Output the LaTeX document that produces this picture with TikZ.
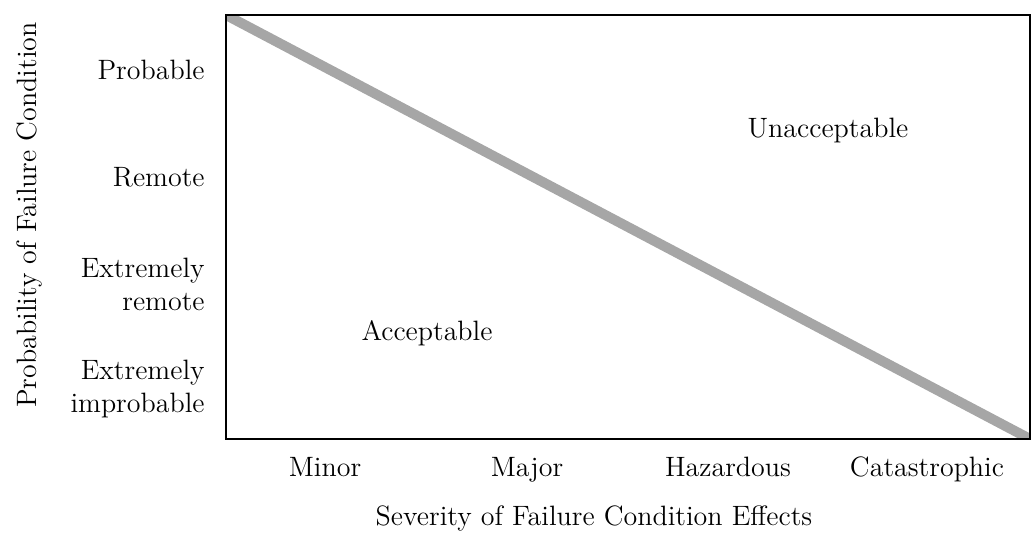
\documentclass[tikz,border=0pt]{standalone}
\usepackage{tikz}
\usetikzlibrary{positioning}

\begin{document}
\begin{tikzpicture}[
    x=0.5pt, y=-0.5pt,
    every node/.style={font=\fontsize{14}{16.5}\selectfont, inner sep=0pt, align=center},
    prob/.style={anchor=east, align=right},
    sev/.style={anchor=base},
    region/.style={anchor=center},
    frame/.style={draw, line width=1.3pt},
    boundary/.style={draw=black!35, line width=5pt}
]
\useasboundingbox (0,0) rectangle (1035,534);

\coordinate (tl) at (226,15);
\coordinate (br) at (1030,439);

% acceptability boundary, clipped to the frame
\begin{scope}
    \clip (tl) rectangle (br);
    \draw[boundary] (tl) -- (br);
\end{scope}
\draw[frame] (tl) rectangle (br);

% probability levels
\node[prob] (probable) at (205,70) {Probable};
\node[prob] (remote) at (205,177) {Remote};
\node[prob] (exremote) at (205,284) {Extremely\\remote};
\node[prob] (eximprob) at (205,389) {Extremely\\improbable};
\node[rotate=90] (ylabel) at (30,215) {Probability of Failure Condition};

% severity levels
\node[sev] (minor) at (325,477) {Minor};
\node[sev] (major) at (527,477) {Major};
\node[sev] (hazard) at (728,477) {Hazardous};
\node[sev] (catast) at (927,477) {Catastrophic};
\node[sev] (xlabel) at (594,526) {Severity of Failure Condition Effects};

% regions
\node[region] (accept) at (427,333) {Acceptable};
\node[region] (unaccept) at (828,131) {Unacceptable};

\end{tikzpicture}
\end{document}
